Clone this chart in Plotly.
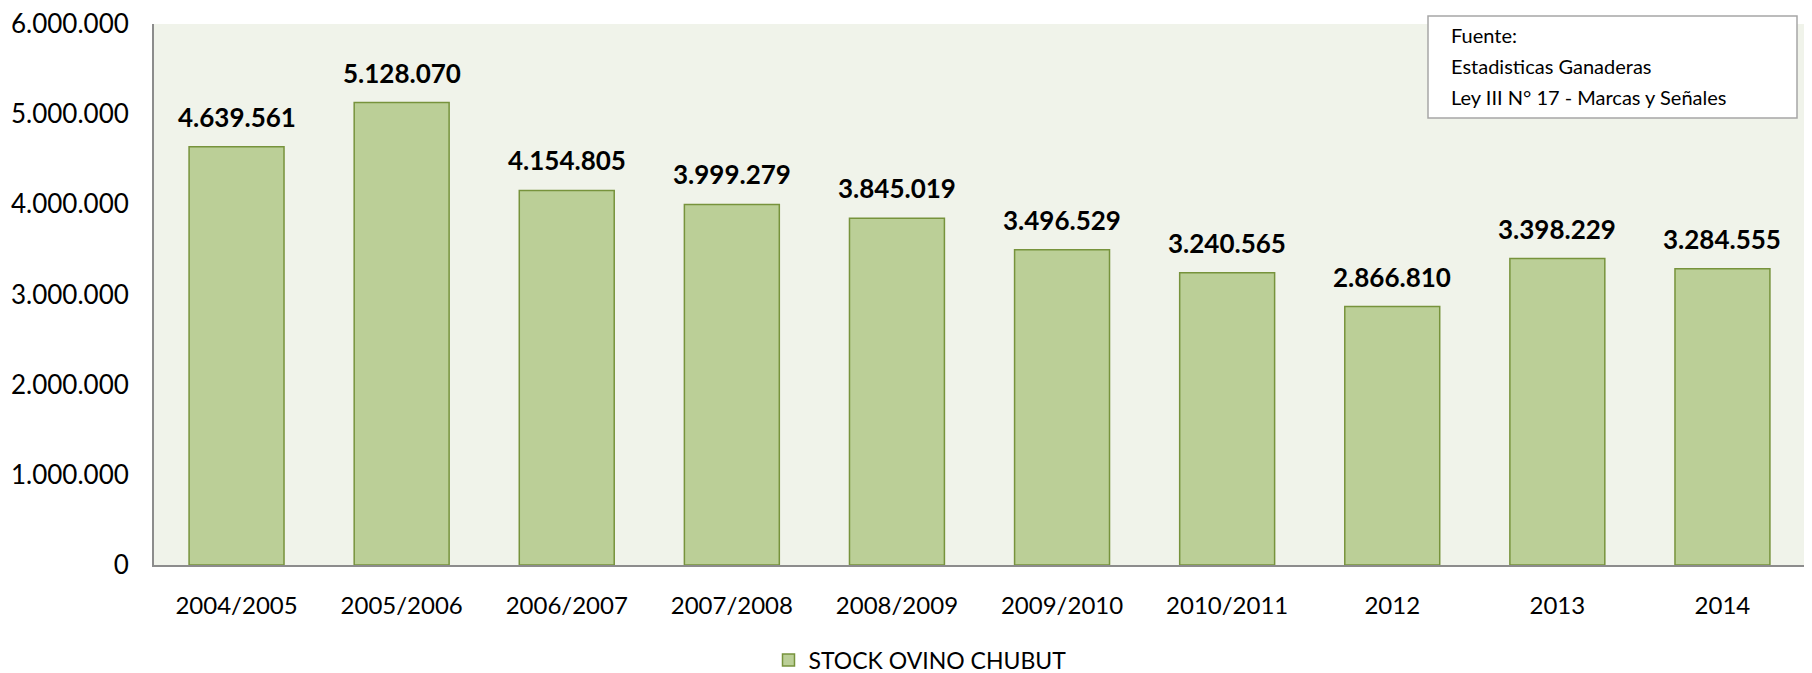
import plotly.graph_objects as go

categories = ["2004/2005", "2005/2006", "2006/2007", "2007/2008", "2008/2009",
              "2009/2010", "2010/2011", "2012", "2013", "2014"]
stock = [4639561, 5128070, 4154805, 3999279, 3845019,
         3496529, 3240565, 2866810, 3398229, 3284555]
series_name = "STOCK OVINO CHUBUT"
y_ticks = [0, 1000000, 2000000, 3000000, 4000000, 5000000, 6000000]
source_lines = ["Fuente:", "Estadisticas Ganaderas", "Ley III N° 17 - Marcas y Señales"]

def fmt(v):
    return f"{v:,}".replace(",", ".")

# page body has an 8px default margin; figure is sized to fit the 1812x673 window
W, H = 1804, 665

fig = go.Figure()
fig.add_trace(go.Bar(
    x=categories, y=stock, name=series_name,
    marker=dict(color="#BBCF97", line=dict(color="#77933C", width=1.5)),
    showlegend=True,
))

annotations = []
for i, v in enumerate(stock):
    annotations.append(dict(
        x=i, y=v, xref="x", yref="y", text=f"<b>{fmt(v)}</b>",
        showarrow=False, yanchor="middle", yshift=30,
        font=dict(family="Lato", size=26, color="#000000"),
    ))

# Source box text lines
line_y = [35, 66, 97]
for txt, py in zip(source_lines, line_y):
    annotations.append(dict(
        x=(1449 - 154) / 1651, y=(565 - py) / 541, xref="paper", yref="paper",
        text=txt, showarrow=False, xanchor="left", yanchor="middle",
        font=dict(family="Lato", size=20, color="#000000"),
    ))

fig.update_layout(
    width=W, height=H,
    margin=dict(l=146, r=7, t=16, b=108, autoexpand=False),
    paper_bgcolor="#FFFFFF",
    plot_bgcolor="#F0F3EA",
    bargap=0.425,
    font=dict(family="Lato", size=24, color="#000000"),
    xaxis=dict(
        type="category", categoryorder="array", categoryarray=categories,
        range=[-0.5, len(categories) - 0.5], automargin=False,
        showline=True, linecolor="#8C8C8C", linewidth=2,
        ticks="outside", ticklen=18, tickcolor="rgba(0,0,0,0)",
        tickfont=dict(family="Lato", size=24),
        showgrid=False, zeroline=False,
    ),
    yaxis=dict(
        range=[0, 6000000], tickvals=y_ticks, automargin=False,
        ticktext=[fmt(t) for t in y_ticks], ticklabeloverflow="allow",
        showline=True, linecolor="#8C8C8C", linewidth=2,
        ticks="outside", ticklen=18, tickcolor="rgba(0,0,0,0)",
        tickfont=dict(family="Lato", size=26),
        showgrid=False, zeroline=False,
    ),
    legend=dict(
        orientation="h", xref="container", yref="container",
        x=912 / W, xanchor="center", y=(H - 652) / H, yanchor="middle",
        font=dict(family="Lato", size=23), bgcolor="rgba(0,0,0,0)",
    ),
    annotations=annotations,
    shapes=[dict(
        type="rect", xref="paper", yref="paper",
        x0=(1428 - 154) / 1651, x1=(1797 - 154) / 1651,
        y0=(565 - 118) / 541, y1=(565 - 16) / 541,
        line=dict(color="#A6A6A6", width=1.5), fillcolor="#FFFFFF", layer="above",
    )],
)

fig.write_html("out.html")
